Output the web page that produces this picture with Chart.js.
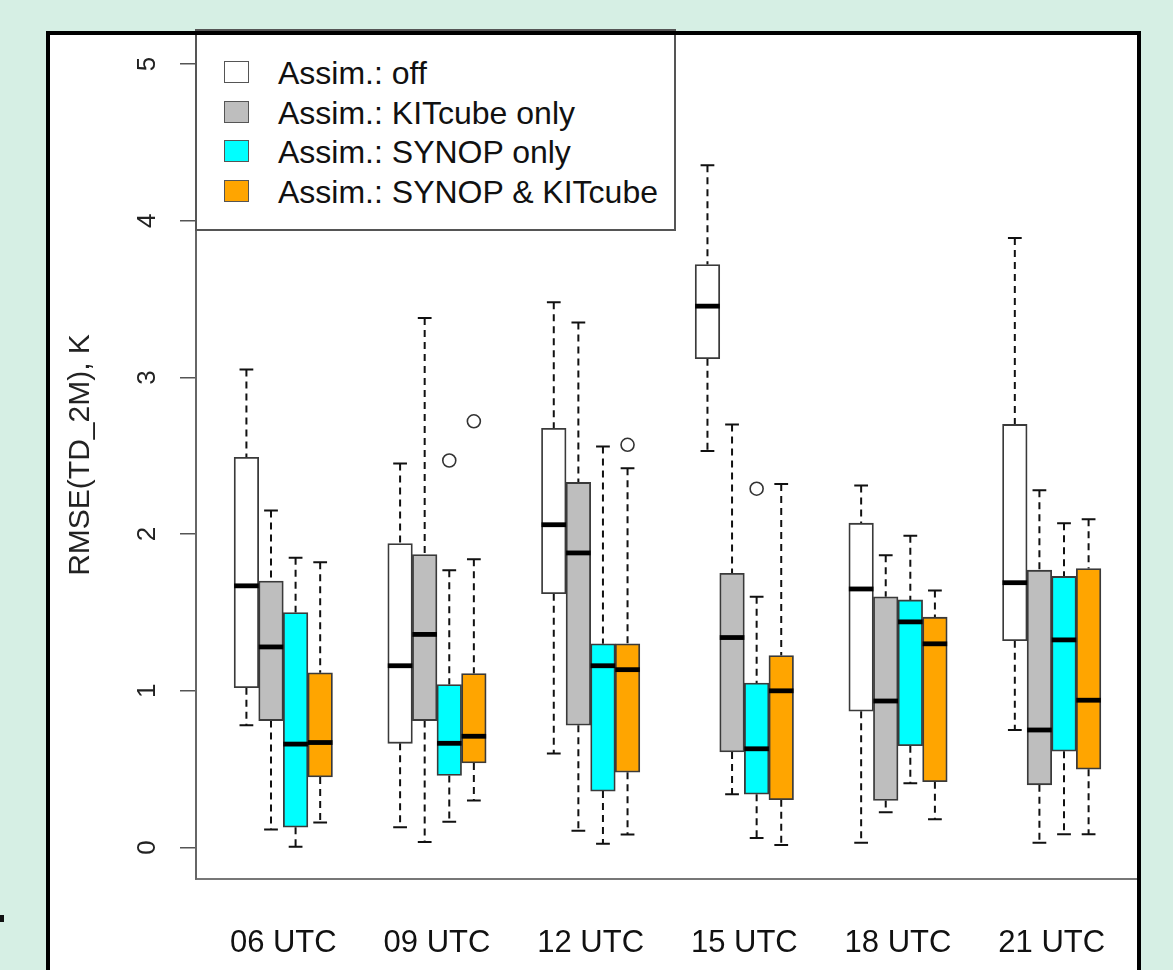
<!DOCTYPE html>
<html lang="en">
<head>
  <meta charset="UTF-8">
  <title>RMSE(TD_2M) boxplots</title>
  <script src="https://cdn.jsdelivr.net/npm/chart.js"></script>
  <style>
    body { margin: 0; width: 1173px; height: 970px; overflow: hidden; position: relative;
           background: #d6efe4; font-family: "Liberation Sans", Arial, sans-serif; }
    #panel { position: absolute; left: 46px; top: 31px; width: 1095px; height: 960px; background: #fff; }
    #wrap { position: absolute; left: 0; top: 0; width: 1173px; height: 970px; }
    #frame { position: absolute; left: 46px; top: 31px; width: 1095px; height: 960px;
             border: 4px solid #000; box-sizing: border-box; }
    #legend { position: absolute; left: 195px; top: 29px; width: 481px; height: 202px; box-sizing: border-box;
              border: 2px solid #555; background: #fff; padding: 23px 0 0 27px; }
    .row { display: flex; align-items: center; height: 39.5px; font-size: 32px; color: #111; }
    .sw { width: 23px; height: 20px; border: 1.5px solid #555; margin-right: 29px; margin-top: -3px; }
    #mark { position: absolute; left: 0; top: 915px; width: 4px; height: 7px; background: #111; }
  </style>
</head>
<body>
  <div id="panel"></div>
  <div id="wrap"><canvas id="box"></canvas></div>
  <div id="legend"></div>
  <div id="frame"></div>
  <div id="mark"></div>

  <script>
    // time slots
    const hours = ['06 UTC', '09 UTC', '12 UTC', '15 UTC', '18 UTC', '21 UTC'];

    // per slot: [lower whisker, Q1, median, Q3, upper whisker]
    const offStats = [
      [0.78, 1.02, 1.67, 2.49, 3.05],
      [0.13, 0.665, 1.16, 1.94, 2.45],
      [0.60, 1.62, 2.06, 2.675, 3.48],
      [2.53, 3.12, 3.455, 3.72, 4.355],
      [0.03, 0.87, 1.65, 2.07, 2.31],
      [0.75, 1.32, 1.69, 2.70, 3.89]
    ];
    const kitStats = [
      [0.115, 0.81, 1.28, 1.70, 2.15],
      [0.035, 0.81, 1.36, 1.87, 3.38],
      [0.107, 0.78, 1.88, 2.33, 3.35],
      [0.34, 0.61, 1.34, 1.75, 2.70],
      [0.225, 0.30, 0.935, 1.60, 1.865],
      [0.03, 0.40, 0.75, 1.77, 2.28]
    ];
    const synopStats = [
      [0.005, 0.13, 0.66, 1.50, 1.85],
      [0.165, 0.46, 0.665, 1.04, 1.77],
      [0.024, 0.36, 1.16, 1.30, 2.56],
      [0.06, 0.34, 0.63, 1.05, 1.60],
      [0.41, 0.65, 1.44, 1.58, 1.99],
      [0.085, 0.615, 1.325, 1.73, 2.07]
    ];
    const bothStats = [
      [0.16, 0.45, 0.67, 1.115, 1.82],
      [0.30, 0.54, 0.71, 1.11, 1.84],
      [0.083, 0.48, 1.135, 1.30, 2.42],
      [0.016, 0.305, 1.00, 1.225, 2.32],
      [0.18, 0.42, 1.30, 1.47, 1.64],
      [0.085, 0.50, 0.94, 1.78, 2.095]
    ];

    // outliers: [slot index, value]
    const offOutliers = [];
    const kitOutliers = [];
    const synopOutliers = [[1, 2.47], [3, 2.29]];
    const bothOutliers = [[1, 2.72], [2, 2.57]];

    const seriesNames = ['Assim.: off', 'Assim.: KITcube only', 'Assim.: SYNOP only', 'Assim.: SYNOP & KITcube'];
    const seriesColors = ['#ffffff', '#bebebe', '#00ffff', '#ffa500'];
    const allStats = [offStats, kitStats, synopStats, bothStats];
    const allOutliers = [offOutliers, kitOutliers, synopOutliers, bothOutliers];

    const boxW = 0.16;   // box width in x units
    const offsetOf = j => (j - 1.5) * boxW;

    const datasets = [];
    allStats.forEach((stats, j) => {
      datasets.push({
        type: 'bar',
        label: seriesNames[j],
        data: stats.map((s, i) => ({ x: i + 1 + offsetOf(j), y: [s[1], s[3]] })),
        backgroundColor: seriesColors[j],
        borderColor: '#3a3a3a',
        borderWidth: 1.8,
        borderSkipped: false,
        grouped: false,
        categoryPercentage: 1,
        barPercentage: 1
      });
    });
    allOutliers.forEach((outs, j) => {
      if (!outs.length) return;
      datasets.push({
        type: 'scatter',
        label: seriesNames[j] + ' outliers',
        data: outs.map(o => ({ x: o[0] + 1 + offsetOf(j), y: o[1] })),
        pointStyle: 'circle',
        pointRadius: 6.5,
        borderColor: '#333',
        backgroundColor: 'rgba(0,0,0,0)',
        borderWidth: 1.6
      });
    });

    // whiskers under the boxes, medians on top
    function drawParts(chart, part) {
      const ctx = chart.ctx;
      const xs = chart.scales.x, ys = chart.scales.y;
      ctx.save();
      allStats.forEach((stats, j) => {
        stats.forEach((s, i) => {
          const xv = i + 1 + offsetOf(j);
          const px = xs.getPixelForValue(xv);
          const half = xs.getPixelForValue(xv + boxW / 2) - px;
          if (part === 'whiskers') {
            ctx.strokeStyle = '#111';
            ctx.lineWidth = 2;
            ctx.setLineDash([7, 5]);
            ctx.beginPath();
            ctx.moveTo(px, ys.getPixelForValue(s[4]));
            ctx.lineTo(px, ys.getPixelForValue(s[3]));
            ctx.moveTo(px, ys.getPixelForValue(s[1]));
            ctx.lineTo(px, ys.getPixelForValue(s[0]));
            ctx.stroke();
            ctx.setLineDash([]);
            ctx.beginPath();
            [s[0], s[4]].forEach(v => {
              const py = ys.getPixelForValue(v);
              ctx.moveTo(px - half * 0.56, py);
              ctx.lineTo(px + half * 0.56, py);
            });
            ctx.stroke();
          } else {
            const py = ys.getPixelForValue(s[2]);
            ctx.strokeStyle = '#000';
            ctx.lineWidth = 4.8;
            ctx.lineCap = 'butt';
            ctx.beginPath();
            ctx.moveTo(px - half, py);
            ctx.lineTo(px + half, py);
            ctx.stroke();
          }
        });
      });
      ctx.restore();
    }

    const boxParts = {
      id: 'boxParts',
      beforeDatasetsDraw(chart) { drawParts(chart, 'whiskers'); },
      afterDatasetsDraw(chart) { drawParts(chart, 'medians'); }
    };

    const ctx = document.getElementById('box').getContext('2d');
    new Chart(ctx, {
      type: 'bar',
      data: { datasets: datasets },
      options: {
        responsive: true,
        maintainAspectRatio: false,
        animation: false,
        layout: { padding: { left: 50, top: 31, right: 34, bottom: 0 } },
        plugins: { legend: { display: false }, tooltip: { enabled: false } },
        scales: {
          x: {
            type: 'linear',
            min: 0.432,
            max: 6.568,
            offset: false,
            afterFit: s => { s.height = 91; s.paddingLeft = 0; s.paddingRight = 0; },
            grid: { offset: false, drawOnChartArea: false, drawTicks: false },
            border: { display: true, color: '#777', width: 2 },
            ticks: {
              stepSize: 1,
              includeBounds: false,
              autoSkip: false,
              maxRotation: 0,
              padding: 46,
              color: '#111',
              font: { family: 'Liberation Sans', size: 31 },
              callback: v => hours[v - 1]
            }
          },
          y: {
            min: -0.201,
            max: 5.211,
            afterFit: s => { s.width = 146; s.paddingTop = 0; s.paddingBottom = 0; },
            grid: { drawOnChartArea: false, drawTicks: true, tickLength: 16, tickColor: '#555', lineWidth: 1.5 },
            border: { display: true, color: '#666', width: 2 },
            ticks: {
              stepSize: 1,
              includeBounds: false,
              minRotation: 90,
              maxRotation: 90,
              crossAlign: 'center',
              padding: 25,
              color: '#222',
              font: { family: 'Liberation Sans', size: 26 }
            },
            title: {
              display: true,
              text: 'RMSE(TD_2M), K',
              color: '#222',
              padding: { top: 13, bottom: 0 },
              font: { family: 'Liberation Sans', size: 30 }
            }
          }
        }
      },
      plugins: [boxParts]
    });

    // legend built from the same series arrays
    const legend = document.getElementById('legend');
    seriesNames.forEach((name, j) => {
      const row = document.createElement('div');
      row.className = 'row';
      const sw = document.createElement('div');
      sw.className = 'sw';
      sw.style.background = seriesColors[j];
      const txt = document.createElement('span');
      txt.textContent = name;
      row.appendChild(sw);
      row.appendChild(txt);
      legend.appendChild(row);
    });
  </script>
</body>
</html>
